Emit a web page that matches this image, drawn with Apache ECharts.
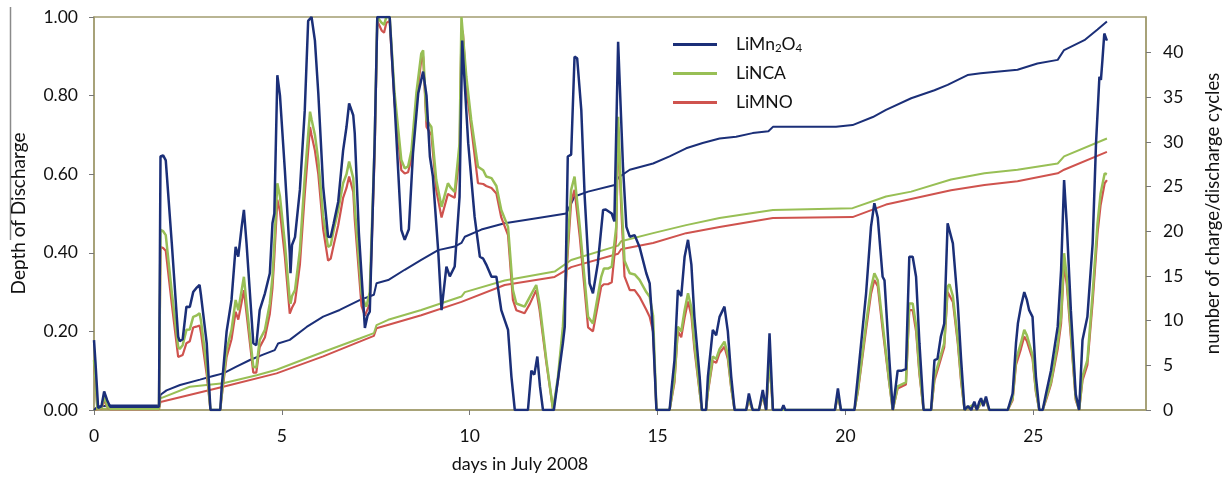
<!DOCTYPE html>
<html>
<head>
<meta charset="utf-8">
<title>Depth of discharge, July 2008</title>
<script src="https://cdn.jsdelivr.net/npm/echarts@6/dist/echarts.min.js"></script>
<style>
  html, body { margin: 0; padding: 0; background: #fff; }
  #chart { width: 1225px; height: 477px; }
</style>
</head>
<body>
<div id="chart"></div>
<script>
// depth of discharge, [day, DoD]
var dodLiMn = [[0,0.178],[0.04,0.12],[0.11,0.005],[0.2,0.01],[0.27,0.047],[0.35,0.025],[0.43,0.008],[1.73,0.008],[1.77,0.645],[1.84,0.648],[1.91,0.635],[2.07,0.425],[2.24,0.187],[2.28,0.175],[2.36,0.18],[2.46,0.263],[2.55,0.262],[2.64,0.30],[2.72,0.31],[2.81,0.318],[2.85,0.29],[3.0,0.17],[3.1,0.0],[3.36,0.0],[3.40,0.06],[3.53,0.20],[3.66,0.28],[3.77,0.415],[3.84,0.39],[3.93,0.466],[3.99,0.509],[4.06,0.424],[4.24,0.17],[4.32,0.165],[4.41,0.254],[4.55,0.297],[4.68,0.348],[4.75,0.475],[4.80,0.50],[4.88,0.852],[4.95,0.80],[5.08,0.61],[5.21,0.40],[5.23,0.348],[5.27,0.42],[5.35,0.44],[5.48,0.56],[5.61,0.763],[5.70,0.99],[5.79,1.0],[5.88,0.94],[5.97,0.806],[6.10,0.568],[6.23,0.441],[6.30,0.44],[6.38,0.475],[6.50,0.53],[6.63,0.66],[6.72,0.72],[6.79,0.78],[6.90,0.75],[6.94,0.704],[7.05,0.45],[7.21,0.209],[7.28,0.24],[7.34,0.25],[7.47,0.68],[7.54,1.0],[7.87,1.0],[8.0,0.78],[8.18,0.458],[8.27,0.433],[8.38,0.46],[8.49,0.653],[8.63,0.806],[8.76,0.861],[8.85,0.80],[8.94,0.645],[9.02,0.594],[9.16,0.407],[9.25,0.254],[9.28,0.25],[9.38,0.365],[9.43,0.365],[9.47,0.34],[9.60,0.365],[9.73,0.543],[9.80,0.94],[9.96,0.679],[10.13,0.492],[10.27,0.39],[10.36,0.385],[10.44,0.37],[10.58,0.339],[10.71,0.339],[10.84,0.254],[11.02,0.204],[11.11,0.085],[11.20,0.0],[11.55,0.0],[11.64,0.10],[11.72,0.09],[11.80,0.136],[11.87,0.06],[11.95,0.0],[12.24,0.0],[12.48,0.17],[12.53,0.212],[12.61,0.645],[12.70,0.65],[12.79,0.899],[12.86,0.895],[12.97,0.763],[13.06,0.543],[13.19,0.322],[13.28,0.297],[13.41,0.373],[13.55,0.509],[13.62,0.51],[13.70,0.505],[13.78,0.50],[13.85,0.48],[13.95,0.937],[14.08,0.619],[14.17,0.466],[14.26,0.441],[14.39,0.445],[14.52,0.415],[14.70,0.348],[14.79,0.322],[14.88,0.195],[14.97,0.0],[15.32,0.0],[15.36,0.042],[15.45,0.127],[15.54,0.305],[15.58,0.31],[15.63,0.29],[15.72,0.39],[15.81,0.433],[15.90,0.37],[15.98,0.237],[16.12,0.085],[16.18,0.0],[16.29,0.0],[16.34,0.085],[16.47,0.204],[16.56,0.19],[16.65,0.237],[16.78,0.263],[16.87,0.20],[16.96,0.085],[17.05,0.0],[17.36,0.0],[17.43,0.042],[17.53,0.0],[17.70,0.0],[17.80,0.051],[17.89,0.0],[17.98,0.195],[18.07,0.0],[18.30,0.0],[18.35,0.012],[18.40,0.0],[19.72,0.0],[19.80,0.055],[19.88,0.0],[20.24,0.0],[20.33,0.085],[20.55,0.297],[20.68,0.466],[20.77,0.526],[20.86,0.49],[20.99,0.339],[21.04,0.33],[21.17,0.127],[21.26,0.0],[21.30,0.0],[21.39,0.10],[21.50,0.10],[21.61,0.104],[21.70,0.39],[21.79,0.39],[21.88,0.339],[21.97,0.17],[22.08,0.0],[22.28,0.0],[22.37,0.127],[22.45,0.13],[22.54,0.187],[22.63,0.22],[22.72,0.475],[22.77,0.48],[22.86,0.424],[22.99,0.271],[23.08,0.127],[23.17,0.0],[23.26,0.01],[23.35,0.0],[23.43,0.021],[23.50,0.0],[23.56,0.02],[23.61,0.03],[23.67,0.01],[23.74,0.034],[23.83,0.0],[24.32,0.0],[24.45,0.042],[24.54,0.17],[24.59,0.22],[24.67,0.263],[24.76,0.30],[24.83,0.28],[24.89,0.254],[24.98,0.237],[25.07,0.085],[25.16,0.0],[25.25,0.0],[25.34,0.042],[25.47,0.10],[25.65,0.212],[25.74,0.356],[25.82,0.585],[25.89,0.475],[26.0,0.254],[26.13,0.04],[26.22,0.0],[26.26,0.0],[26.31,0.178],[26.35,0.18],[26.44,0.237],[26.58,0.424],[26.67,0.679],[26.76,0.848],[26.80,0.84],[26.84,0.89],[26.89,0.958],[26.93,0.96],[26.96,0.94]];

var dodLiNCA = [[0,0.127],[0.04,0.08],[0.09,0.003],[0.2,0.005],[0.27,0.035],[0.35,0.01],[0.43,0.003],[1.73,0.003],[1.77,0.458],[1.84,0.455],[1.91,0.445],[2.07,0.30],[2.24,0.161],[2.28,0.155],[2.36,0.165],[2.46,0.204],[2.55,0.205],[2.64,0.237],[2.72,0.24],[2.81,0.246],[2.85,0.225],[3.0,0.11],[3.1,0.0],[3.36,0.0],[3.40,0.04],[3.53,0.153],[3.66,0.204],[3.77,0.28],[3.84,0.254],[3.93,0.305],[3.99,0.339],[4.06,0.27],[4.24,0.11],[4.32,0.108],[4.41,0.178],[4.55,0.204],[4.68,0.271],[4.75,0.339],[4.80,0.424],[4.88,0.577],[4.95,0.543],[5.08,0.424],[5.21,0.28],[5.23,0.27],[5.27,0.29],[5.35,0.305],[5.48,0.407],[5.61,0.594],[5.75,0.759],[5.79,0.74],[5.88,0.70],[5.97,0.636],[6.10,0.492],[6.23,0.415],[6.30,0.42],[6.38,0.458],[6.50,0.509],[6.63,0.577],[6.72,0.60],[6.79,0.632],[6.90,0.59],[6.94,0.517],[7.12,0.297],[7.21,0.27],[7.25,0.263],[7.34,0.30],[7.47,0.68],[7.54,1.0],[7.66,0.985],[7.72,0.98],[7.78,1.0],[7.87,1.0],[8.0,0.806],[8.18,0.636],[8.27,0.615],[8.36,0.62],[8.45,0.66],[8.58,0.806],[8.71,0.907],[8.76,0.915],[8.85,0.738],[8.98,0.72],[9.11,0.585],[9.25,0.517],[9.42,0.577],[9.50,0.565],[9.60,0.555],[9.73,0.679],[9.78,1.0],[9.82,1.0],[9.91,0.848],[10.04,0.738],[10.22,0.619],[10.36,0.61],[10.44,0.594],[10.58,0.59],[10.71,0.57],[10.84,0.509],[11.02,0.466],[11.15,0.305],[11.24,0.271],[11.46,0.263],[11.60,0.288],[11.77,0.318],[11.86,0.27],[12.04,0.127],[12.22,0.0],[12.35,0.085],[12.48,0.212],[12.61,0.424],[12.70,0.56],[12.79,0.594],[12.93,0.466],[13.15,0.237],[13.28,0.22],[13.50,0.339],[13.57,0.36],[13.68,0.36],[13.78,0.365],[13.90,0.466],[13.95,0.746],[14.03,0.55],[14.12,0.38],[14.26,0.348],[14.39,0.345],[14.52,0.331],[14.70,0.3],[14.79,0.288],[14.88,0.24],[14.97,0.0],[15.32,0.0],[15.45,0.08],[15.54,0.212],[15.63,0.20],[15.72,0.254],[15.81,0.297],[15.90,0.26],[15.98,0.17],[16.12,0.05],[16.18,0.0],[16.29,0.0],[16.34,0.05],[16.47,0.136],[16.56,0.13],[16.65,0.155],[16.78,0.174],[16.87,0.14],[16.96,0.06],[17.05,0.0],[17.36,0.0],[17.43,0.03],[17.53,0.0],[17.70,0.0],[17.80,0.04],[17.89,0.0],[17.98,0.136],[18.07,0.0],[19.72,0.0],[19.80,0.04],[19.88,0.0],[20.24,0.0],[20.33,0.05],[20.55,0.22],[20.68,0.31],[20.77,0.348],[20.86,0.33],[20.99,0.22],[21.17,0.07],[21.26,0.0],[21.30,0.0],[21.39,0.06],[21.61,0.07],[21.70,0.271],[21.79,0.271],[21.88,0.216],[21.97,0.10],[22.08,0.0],[22.28,0.0],[22.37,0.085],[22.54,0.14],[22.63,0.17],[22.72,0.314],[22.77,0.32],[22.86,0.29],[22.99,0.18],[23.08,0.08],[23.17,0.0],[23.43,0.015],[23.50,0.0],[23.61,0.02],[23.74,0.025],[23.83,0.0],[24.32,0.0],[24.45,0.03],[24.54,0.127],[24.67,0.17],[24.76,0.204],[24.83,0.19],[24.98,0.14],[25.07,0.05],[25.16,0.0],[25.25,0.0],[25.34,0.03],[25.47,0.07],[25.65,0.17],[25.74,0.237],[25.82,0.399],[25.89,0.34],[26.0,0.2],[26.13,0.03],[26.22,0.0],[26.26,0.0],[26.31,0.085],[26.44,0.127],[26.58,0.297],[26.71,0.475],[26.79,0.55],[26.84,0.545],[26.90,0.602],[26.96,0.60]];

var dodLiMNO = [[0,0.12],[0.04,0.07],[0.09,0.002],[0.2,0.004],[0.27,0.025],[0.35,0.008],[0.43,0.002],[1.73,0.002],[1.77,0.415],[1.84,0.412],[1.91,0.405],[2.07,0.27],[2.24,0.135],[2.28,0.131],[2.36,0.14],[2.46,0.17],[2.55,0.175],[2.64,0.21],[2.72,0.212],[2.81,0.215],[2.85,0.195],[3.0,0.09],[3.1,0.0],[3.36,0.0],[3.40,0.035],[3.53,0.135],[3.66,0.18],[3.77,0.25],[3.84,0.23],[3.93,0.275],[3.99,0.305],[4.06,0.245],[4.24,0.095],[4.32,0.095],[4.41,0.16],[4.55,0.185],[4.68,0.245],[4.75,0.31],[4.80,0.39],[4.88,0.535],[4.95,0.505],[5.08,0.39],[5.21,0.245],[5.23,0.24],[5.27,0.26],[5.35,0.275],[5.48,0.37],[5.61,0.55],[5.75,0.72],[5.79,0.70],[5.88,0.66],[5.97,0.60],[6.10,0.46],[6.23,0.38],[6.30,0.385],[6.38,0.42],[6.50,0.47],[6.63,0.54],[6.72,0.565],[6.79,0.594],[6.90,0.555],[6.94,0.485],[7.12,0.265],[7.21,0.24],[7.25,0.237],[7.34,0.27],[7.47,0.65],[7.54,0.99],[7.66,0.965],[7.72,0.96],[7.78,0.985],[7.87,0.99],[8.0,0.78],[8.18,0.61],[8.27,0.602],[8.36,0.605],[8.45,0.64],[8.58,0.785],[8.71,0.89],[8.76,0.90],[8.85,0.72],[8.98,0.70],[9.11,0.56],[9.25,0.49],[9.42,0.55],[9.50,0.545],[9.60,0.54],[9.73,0.65],[9.78,0.97],[9.82,0.96],[9.91,0.82],[10.04,0.72],[10.22,0.577],[10.36,0.575],[10.44,0.57],[10.58,0.565],[10.71,0.551],[10.84,0.49],[11.02,0.445],[11.15,0.28],[11.24,0.254],[11.46,0.246],[11.60,0.27],[11.77,0.305],[11.86,0.254],[12.04,0.12],[12.22,0.0],[12.35,0.075],[12.48,0.195],[12.61,0.40],[12.70,0.53],[12.79,0.56],[12.93,0.44],[13.15,0.21],[13.28,0.20],[13.50,0.314],[13.57,0.32],[13.68,0.32],[13.78,0.325],[13.90,0.44],[13.95,0.72],[14.03,0.52],[14.12,0.34],[14.26,0.305],[14.39,0.305],[14.52,0.288],[14.70,0.255],[14.79,0.237],[14.88,0.2],[14.97,0.0],[15.32,0.0],[15.45,0.07],[15.54,0.2],[15.63,0.185],[15.72,0.235],[15.81,0.276],[15.90,0.24],[15.98,0.155],[16.12,0.045],[16.18,0.0],[16.29,0.0],[16.34,0.045],[16.47,0.125],[16.56,0.12],[16.65,0.145],[16.78,0.161],[16.87,0.13],[16.96,0.055],[17.05,0.0],[17.36,0.0],[17.43,0.025],[17.53,0.0],[17.70,0.0],[17.80,0.035],[17.89,0.0],[17.98,0.125],[18.07,0.0],[19.72,0.0],[19.80,0.035],[19.88,0.0],[20.24,0.0],[20.33,0.045],[20.55,0.205],[20.68,0.295],[20.77,0.331],[20.86,0.315],[20.99,0.205],[21.17,0.065],[21.26,0.0],[21.30,0.0],[21.39,0.055],[21.61,0.065],[21.70,0.254],[21.79,0.254],[21.88,0.2],[21.97,0.09],[22.08,0.0],[22.28,0.0],[22.37,0.075],[22.54,0.13],[22.63,0.16],[22.72,0.3],[22.77,0.305],[22.86,0.275],[22.99,0.17],[23.08,0.07],[23.17,0.0],[23.43,0.012],[23.50,0.0],[23.61,0.018],[23.74,0.022],[23.83,0.0],[24.32,0.0],[24.45,0.025],[24.54,0.115],[24.67,0.155],[24.76,0.187],[24.83,0.175],[24.98,0.13],[25.07,0.045],[25.16,0.0],[25.25,0.0],[25.34,0.025],[25.47,0.065],[25.65,0.155],[25.74,0.22],[25.82,0.373],[25.89,0.32],[26.0,0.185],[26.13,0.025],[26.22,0.0],[26.26,0.0],[26.31,0.075],[26.44,0.115],[26.58,0.275],[26.71,0.45],[26.79,0.52],[26.84,0.515],[26.90,0.577],[26.96,0.585]];

// cumulative charge/discharge cycles, [day, cycles]
var cycLiMn = [[0,0],[0.1,0.4],[0.43,0.5],[1.73,0.5],[1.77,1.7],[1.93,2.2],[2.29,2.8],[2.82,3.4],[3.17,3.8],[3.44,4.1],[3.79,4.85],[4.15,5.6],[4.5,6.2],[4.81,6.7],[4.9,7.45],[5.21,7.85],[5.66,9.3],[6.10,10.45],[6.54,11.2],[7.07,12.3],[7.45,12.9],[7.52,14.2],[7.83,14.55],[8.27,15.7],[8.71,16.8],[9.16,17.9],[9.6,18.3],[9.78,18.7],[9.87,19.4],[10.31,20.2],[10.93,20.9],[11.82,21.5],[12.57,22.0],[12.79,23.9],[13.15,24.45],[13.86,25.2],[13.95,26.0],[14.26,26.9],[14.88,27.6],[15.32,28.4],[15.76,29.3],[16.2,29.9],[16.65,30.4],[17.09,30.6],[17.53,31.0],[17.95,31.2],[18.07,31.7],[19.75,31.7],[20.19,31.9],[20.73,32.8],[21.08,33.6],[21.75,34.9],[22.37,35.8],[22.72,36.4],[23.25,37.5],[23.6,37.7],[24.58,38.1],[25.11,38.8],[25.65,39.2],[25.82,40.3],[26.36,41.4],[26.71,42.6],[26.96,43.5]];

var cycLiNCA = [[0,0],[0.1,0.15],[1.73,0.15],[1.77,1.3],[2.55,2.6],[3.44,3.0],[4.33,3.9],[4.86,4.5],[5.66,5.8],[6.10,6.5],[7.07,8.0],[7.45,8.6],[7.52,9.5],[7.83,10.1],[8.71,11.2],[9.78,12.7],[9.87,13.2],[10.93,14.5],[12.26,15.5],[12.70,16.8],[13.95,18.4],[14.03,18.9],[14.88,19.8],[15.76,20.7],[16.65,21.5],[18.07,22.4],[20.19,22.6],[21.08,23.9],[21.75,24.45],[22.81,25.8],[23.70,26.5],[24.58,26.9],[25.65,27.6],[25.82,28.4],[26.96,30.4]];

var cycLiMNO = [[0,0],[0.1,0.1],[1.73,0.1],[1.77,0.9],[3.44,2.6],[4.86,4.1],[6.10,6.0],[7.07,7.65],[7.45,8.3],[7.52,9.15],[8.71,10.6],[9.78,12.1],[10.93,14.0],[12.26,14.9],[12.70,16.0],[13.95,17.5],[14.03,18.0],[14.88,18.7],[15.76,19.8],[16.65,20.5],[18.07,21.5],[20.19,21.6],[21.08,23.0],[22.81,24.6],[23.7,25.2],[24.58,25.6],[25.65,26.5],[25.82,26.9],[26.96,28.9]];

var names = ['LiMn2O4', 'LiNCA', 'LiMNO'];
var colors = { LiMn2O4: '#1b2f78', LiNCA: '#98bf55', LiMNO: '#cf534e' };

var frame = '#a29d70';
var font = 'Lato, "Open Sans", sans-serif';

function line(name, data, yIdx, width) {
    return {
        name: name,
        type: 'line',
        yAxisIndex: yIdx,
        data: data,
        showSymbol: false,
        symbol: 'none',
        animation: false,
        lineStyle: { color: colors[name], width: width },
        itemStyle: { color: colors[name] }
    };
}

var chart = echarts.init(document.getElementById('chart'));
chart.setOption({
    backgroundColor: '#fff',
    textStyle: { fontFamily: font },
    grid: {
        left: 94, right: 79, top: 17, bottom: 67,
        outerBoundsMode: 'none',
        show: true, borderColor: frame, borderWidth: 1.5
    },
    legend: {
        data: names,
        orient: 'vertical',
        left: 668,
        top: 29,
        itemWidth: 44,
        itemHeight: 3,
        itemGap: 8,
        icon: 'rect',
        selectedMode: false,
        formatter: function (n) {
            return n === 'LiMn2O4' ? 'LiMn{s|2}O{s|4}' : n;
        },
        textStyle: {
            fontFamily: font, fontSize: 17.5, color: '#111',
            lineHeight: 21, padding: [0, 0, 0, 14],
            rich: { s: { fontFamily: font, fontSize: 11.5, color: '#111', padding: [8, 0, 0, 0] } }
        }
    },
    xAxis: {
        type: 'value',
        min: 0, max: 28, interval: 5,
        name: 'days in July 2008',
        nameLocation: 'middle',
        nameGap: 45,
        nameTextStyle: { fontFamily: font, fontSize: 18, color: '#111', padding: [0, 200, 0, 0] },
        axisLine: { lineStyle: { color: frame, width: 1.5 } },
        axisTick: { show: true, length: 5, lineStyle: { color: '#777' } },
        axisLabel: { fontSize: 17.5, color: '#111', margin: 17, showMaxLabel: false },
        splitLine: { show: false }
    },
    yAxis: [{
        type: 'value',
        min: 0, max: 1, interval: 0.2,
        name: 'Depth of Discharge',
        nameLocation: 'middle',
        nameGap: 66,
        nameTextStyle: { fontFamily: font, fontSize: 19, color: '#111' },
        axisLine: { show: true, lineStyle: { color: frame, width: 1.5 } },
        axisTick: { show: true, length: 5, lineStyle: { color: '#777' } },
        axisLabel: { fontSize: 17.5, color: '#111', margin: 16, formatter: function (v) { return v.toFixed(2); } },
        splitLine: { show: false }
    }, {
        type: 'value',
        min: 0, max: 44, interval: 5,
        position: 'right',
        name: 'number of charge/discharge cycles',
        nameLocation: 'middle',
        nameGap: 58,
        nameRotate: 90,
        nameTextStyle: { fontFamily: font, fontSize: 18.5, color: '#111' },
        axisLine: { show: true, lineStyle: { color: frame, width: 1.5 } },
        axisTick: { show: true, length: 5, lineStyle: { color: '#777' } },
        axisLabel: { fontSize: 17.5, color: '#111', margin: 17, showMaxLabel: false },
        splitLine: { show: false }
    }],
    graphic: [{
        type: 'line',
        shape: { x1: 10.5, y1: 7, x2: 10.5, y2: 240 },
        style: { stroke: '#8a8a8a', lineWidth: 1.5 }
    }],
    series: [
        line('LiMNO', cycLiMNO, 1, 2),
        line('LiNCA', cycLiNCA, 1, 2),
        line('LiMn2O4', cycLiMn, 1, 2),
        line('LiMNO', dodLiMNO, 0, 2.2),
        line('LiNCA', dodLiNCA, 0, 2.5),
        line('LiMn2O4', dodLiMn, 0, 2.5)
    ]
});
</script>
</body>
</html>
